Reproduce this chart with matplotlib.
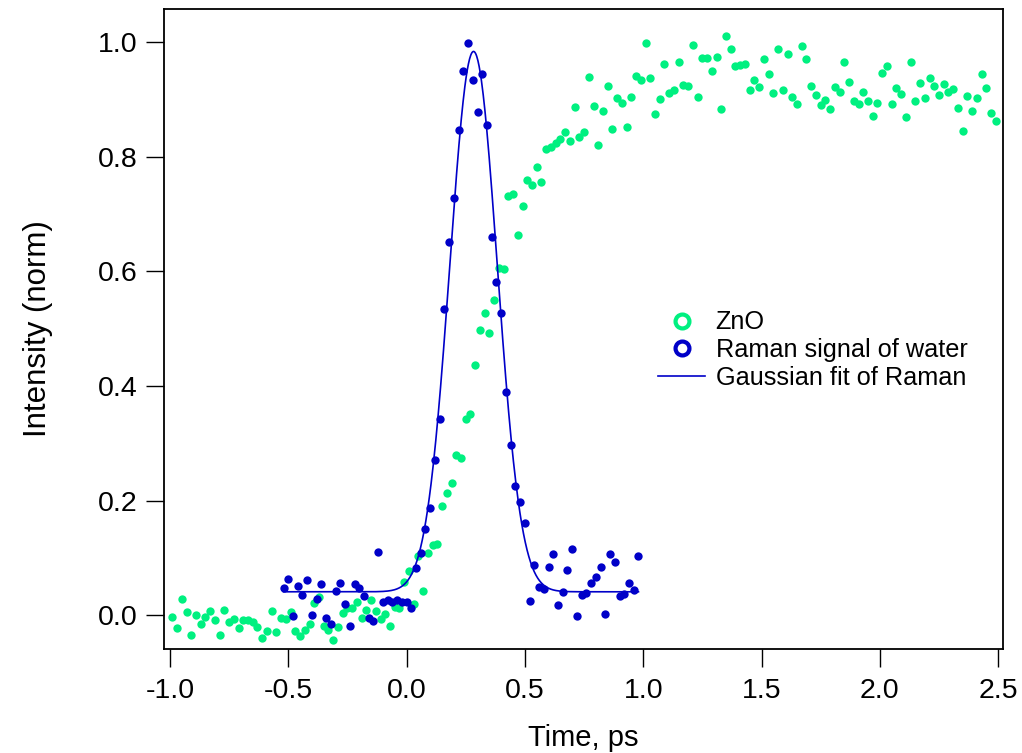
import numpy as np
import matplotlib
matplotlib.use("Agg")
import matplotlib.pyplot as plt
from matplotlib.lines import Line2D

plt.rcParams['font.family'] = ['Liberation Sans', 'DejaVu Sans']

# ZnO signal (time in ps, normalised intensity)
zno_t = [-0.99, -0.97, -0.95, -0.93, -0.91, -0.89, -0.87, -0.85, -0.83, -0.81,
         -0.79, -0.77, -0.75, -0.73, -0.71, -0.69, -0.67, -0.65, -0.63, -0.61,
         -0.59, -0.57, -0.55, -0.53, -0.51, -0.49, -0.47, -0.45, -0.43, -0.41,
         -0.39, -0.37, -0.35, -0.33, -0.31, -0.29, -0.27, -0.25, -0.23, -0.21,
         -0.19, -0.17, -0.15, -0.13, -0.11, -0.09, -0.07, -0.05, -0.03, -0.01,
         0.01, 0.03, 0.05, 0.07, 0.09, 0.11, 0.13, 0.15, 0.17, 0.19,
         0.21, 0.23, 0.25, 0.27, 0.29, 0.31, 0.33, 0.35, 0.37, 0.39,
         0.41, 0.43, 0.45, 0.47, 0.49, 0.51, 0.53, 0.55, 0.57, 0.59,
         0.61, 0.63, 0.65, 0.67, 0.69, 0.71, 0.73, 0.75, 0.77, 0.79,
         0.81, 0.83, 0.85, 0.87, 0.89, 0.91, 0.93, 0.95, 0.97, 0.99,
         1.01, 1.03, 1.05, 1.07, 1.09, 1.11, 1.13, 1.15, 1.17, 1.19,
         1.21, 1.23, 1.25, 1.27, 1.29, 1.31, 1.33, 1.35, 1.37, 1.39,
         1.41, 1.43, 1.45, 1.47, 1.49, 1.51, 1.53, 1.55, 1.57, 1.59,
         1.61, 1.63, 1.65, 1.67, 1.69, 1.71, 1.73, 1.75, 1.77, 1.79,
         1.81, 1.83, 1.85, 1.87, 1.89, 1.91, 1.93, 1.95, 1.97, 1.99,
         2.01, 2.03, 2.05, 2.07, 2.09, 2.11, 2.13, 2.15, 2.17, 2.19,
         2.21, 2.23, 2.25, 2.27, 2.29, 2.31, 2.33, 2.35, 2.37, 2.39,
         2.41, 2.43, 2.45, 2.47, 2.49]
zno_i = [-0.003, -0.023, 0.028, 0.006, -0.035, 0.000, -0.016, -0.003, 0.008, -0.009,
         -0.035, 0.010, -0.012, -0.006, -0.023, -0.009, -0.009, -0.012, -0.021, -0.040,
         -0.028, 0.008, -0.029, -0.005, -0.006, 0.005, -0.027, -0.036, -0.026, -0.016,
         0.021, 0.032, -0.019, -0.026, -0.044, -0.020, 0.004, 0.012, 0.013, 0.023,
         -0.004, 0.009, 0.026, 0.008, -0.007, 0.003, -0.019, 0.014, 0.012, 0.058,
         0.077, 0.019, 0.103, 0.042, 0.108, 0.122, 0.125, 0.190, 0.213, 0.231,
         0.280, 0.275, 0.342, 0.352, 0.436, 0.497, 0.528, 0.493, 0.551, 0.606,
         0.604, 0.731, 0.736, 0.664, 0.714, 0.759, 0.751, 0.782, 0.756, 0.813,
         0.818, 0.824, 0.831, 0.844, 0.828, 0.887, 0.835, 0.843, 0.939, 0.888,
         0.820, 0.880, 0.924, 0.848, 0.902, 0.894, 0.853, 0.905, 0.942, 0.934,
         0.999, 0.937, 0.874, 0.901, 0.962, 0.912, 0.916, 0.966, 0.925, 0.923,
         0.995, 0.904, 0.973, 0.973, 0.949, 0.975, 0.884, 1.011, 0.988, 0.959,
         0.961, 0.962, 0.916, 0.935, 0.922, 0.971, 0.945, 0.912, 0.989, 0.916,
         0.980, 0.904, 0.892, 0.994, 0.970, 0.923, 0.908, 0.890, 0.900, 0.883,
         0.922, 0.913, 0.965, 0.931, 0.898, 0.893, 0.914, 0.897, 0.871, 0.894,
         0.947, 0.959, 0.893, 0.921, 0.909, 0.870, 0.965, 0.898, 0.929, 0.903,
         0.938, 0.924, 0.908, 0.927, 0.914, 0.918, 0.885, 0.846, 0.907, 0.880,
         0.902, 0.944, 0.921, 0.877, 0.863]

# Raman signal of water
raman_t = [-0.52, -0.50, -0.48, -0.46, -0.44, -0.42, -0.40, -0.38, -0.36, -0.34,
           -0.32, -0.30, -0.28, -0.26, -0.24, -0.22, -0.20, -0.18, -0.16, -0.14,
           -0.12, -0.10, -0.08, -0.06, -0.04, -0.02, 0.00, 0.02, 0.04, 0.06,
           0.08, 0.10, 0.12, 0.14, 0.16, 0.18, 0.20, 0.22, 0.24, 0.26,
           0.28, 0.30, 0.32, 0.34, 0.36, 0.38, 0.40, 0.42, 0.44, 0.46,
           0.48, 0.50, 0.52, 0.54, 0.56, 0.58, 0.60, 0.62, 0.64, 0.66,
           0.68, 0.70, 0.72, 0.74, 0.76, 0.78, 0.80, 0.82, 0.84, 0.86,
           0.88, 0.90, 0.92, 0.94, 0.96, 0.98]
raman_i = [0.047, 0.063, -0.001, 0.051, 0.035, 0.062, 0.000, 0.029, 0.055, -0.004,
           -0.016, 0.043, 0.056, 0.019, -0.019, 0.054, 0.047, 0.033, -0.005, -0.010,
           0.110, 0.024, 0.026, 0.024, 0.026, 0.024, 0.024, 0.012, 0.083, 0.108,
           0.151, 0.188, 0.271, 0.342, 0.534, 0.652, 0.728, 0.847, 0.950, 0.999,
           0.935, 0.878, 0.944, 0.855, 0.660, 0.581, 0.528, 0.389, 0.297, 0.225,
           0.197, 0.161, 0.025, 0.087, 0.049, 0.046, 0.085, 0.107, 0.018, 0.040,
           0.079, 0.116, -0.001, 0.036, 0.039, 0.056, 0.066, 0.085, 0.003, 0.107,
           0.093, 0.033, 0.038, 0.056, 0.044, 0.103]

# Gaussian fit parameters (offset, amplitude, centre, sigma)
fit_offset = 0.041
fit_amp = 0.943
fit_center = 0.283
fit_sigma = 0.100

green = '#00F080'
blue = '#0000C8'

fig = plt.figure(figsize=(10.22, 7.53), dpi=100)
ax = fig.add_axes([0.1605, 0.138, 0.821, 0.850])

ax.plot(zno_t, zno_i, 'o', color=green, markersize=6, markeredgewidth=0, zorder=2)

fit_t = np.linspace(min(raman_t), max(raman_t), 600)
fit_i = fit_offset + fit_amp * np.exp(-(fit_t - fit_center) ** 2 / (2 * fit_sigma ** 2))
ax.plot(fit_t, fit_i, '-', color=blue, linewidth=1.2, zorder=3)
ax.plot(raman_t, raman_i, 'o', color=blue, markersize=6, markeredgewidth=0, zorder=4)

ax.set_xlim(-1.025, 2.521)
ax.set_ylim(-0.059, 1.058)
ax.set_xticks([-1.0, -0.5, 0.0, 0.5, 1.0, 1.5, 2.0, 2.5])
ax.set_yticks([0.0, 0.2, 0.4, 0.6, 0.8, 1.0])
ax.xaxis.set_major_formatter(matplotlib.ticker.FormatStrFormatter('%.1f'))
ax.yaxis.set_major_formatter(matplotlib.ticker.FormatStrFormatter('%.1f'))
ax.tick_params(direction='out', length=13, width=1, labelsize=20.5, pad=6)
ax.tick_params(axis='x', pad=8)
for s in ax.spines.values():
    s.set_linewidth(1.3)

ax.set_xlabel('Time, ps', fontsize=21, labelpad=14)
ax.set_ylabel('Intensity (norm)', fontsize=22.5, labelpad=32)

handles = [
    Line2D([], [], marker='o', linestyle='none', markerfacecolor='white',
           markeredgecolor=green, markeredgewidth=3, markersize=10),
    Line2D([], [], marker='o', linestyle='none', markerfacecolor='white',
           markeredgecolor=blue, markeredgewidth=3, markersize=10),
    Line2D([], [], color=blue, linewidth=1.2),
]
labels = ['ZnO', 'Raman signal of water', 'Gaussian fit of Raman']
ax.legend(handles, labels, loc='upper left', bbox_to_anchor=(0.577, 0.545),
          frameon=False, fontsize=18.2, handlelength=1.85, handletextpad=0.42,
          labelspacing=0.15, borderaxespad=0)

fig.savefig('out.png', dpi=100)
